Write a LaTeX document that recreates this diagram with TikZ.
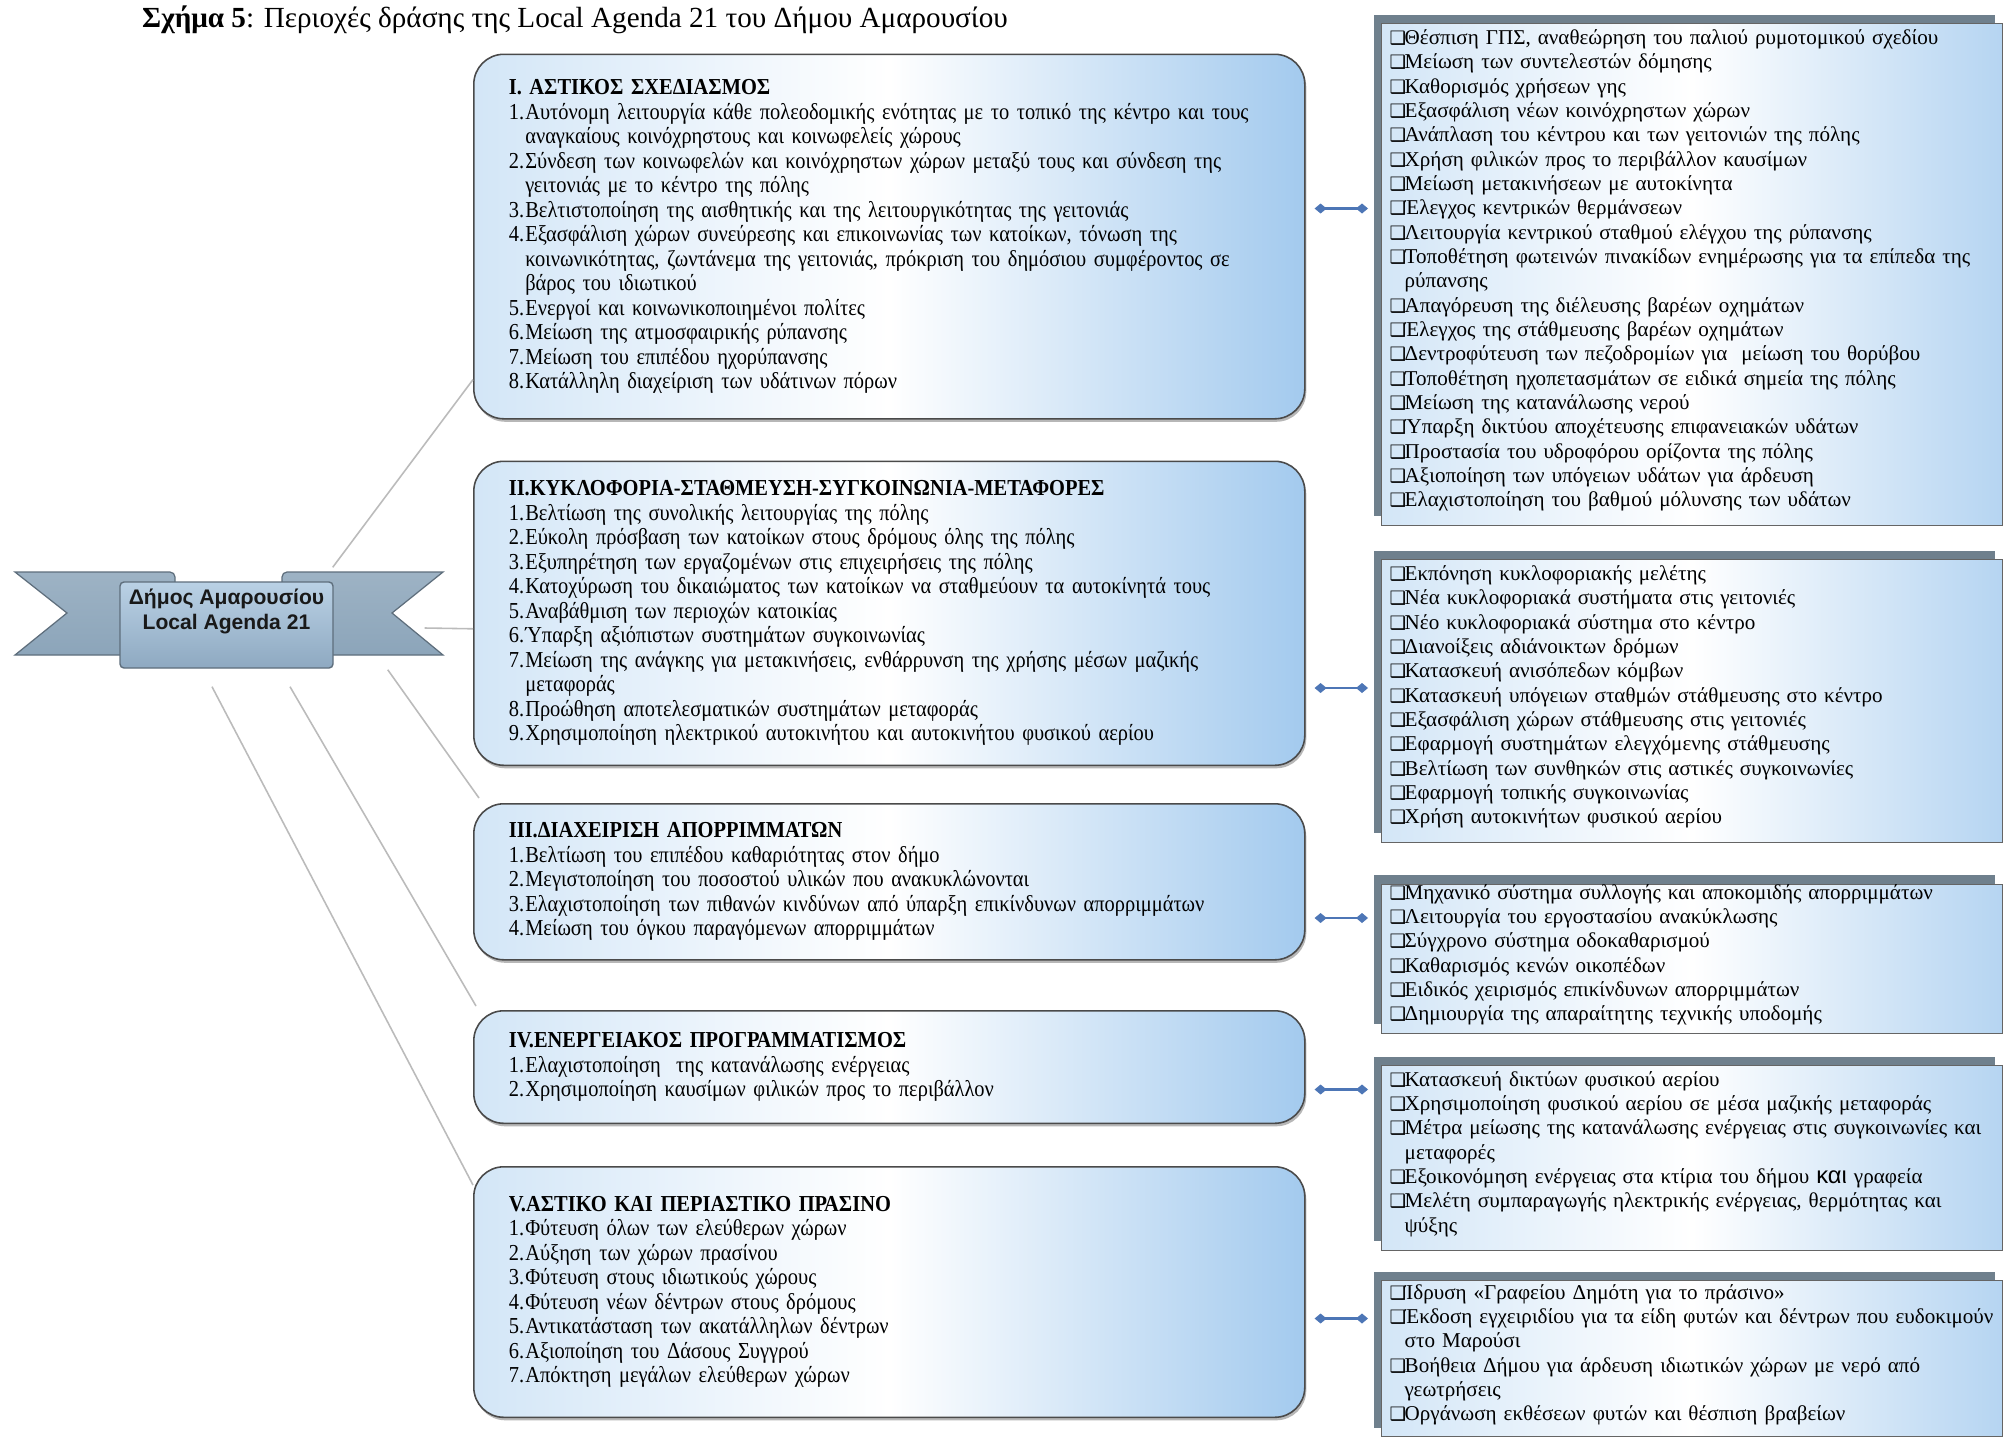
\documentclass[tikz,border=0pt]{standalone}
\usepackage{fontspec}
\setmainfont{Liberation Serif}
\newfontfamily\narrowserif[FakeStretch=0.895]{Liberation Serif}
\newfontfamily\bannersans{Liberation Sans}
\newfontfamily\dingfont{DejaVu Sans}
\usepackage{tikz}
\usetikzlibrary{arrows.meta, positioning, calc, shadows}
\definecolor{Frame}{HTML}{4A4A4A}
\definecolor{PaleBlue}{HTML}{D3E6F7}
\definecolor{SkyBlue}{HTML}{A3CAEE}
\definecolor{LinkBlue}{HTML}{4D76B6}
\definecolor{BranchGray}{HTML}{BBBBBB}
\definecolor{RibbonGray}{HTML}{8CA5BA}
\definecolor{RibbonEdge}{HTML}{5E6E7C}
\definecolor{PanelTop}{HTML}{BAD1E5}
\definecolor{PanelBottom}{HTML}{8EA9C1}
\definecolor{ShadowGray}{HTML}{6F808D}
\newcommand{\goaltitle}[1]{\noindent\textbf{#1}\par}
\newcommand{\goalitem}[2]{\noindent\hangindent=0.33cm\hangafter=1\makebox[0.33cm][l]{#1.}#2\par}
\newcommand{\actitem}[1]{\noindent\hangindent=0.3cm\hangafter=1\makebox[0.3cm][l]{\dingfont\fontsize{10.5}{10}\selectfont ❑}#1\par}
\tikzset{
    goalbox/.style={rectangle, rounded corners=0.6cm, draw=Frame, line width=0.9pt,
        left color=PaleBlue, right color=SkyBlue, middle color=white,
        minimum width=16.62cm, text width=15.22cm, inner xsep=0.7cm, inner ysep=0pt,
        align=left, anchor=north west, font=\narrowserif\fontsize{13}{13.95}\selectfont,
        drop shadow={shadow xshift=0.03cm, shadow yshift=-0.06cm, fill=gray!70, opacity=0.8}},
    actionbox/.style={rectangle, draw=Frame!85, line width=0.8pt,
        left color=PaleBlue, right color=SkyBlue!80, middle color=white,
        minimum width=12.42cm, text width=12.1cm, inner xsep=0.16cm, inner ysep=0pt,
        align=left, anchor=north west, font=\fontsize{12}{13.85}\selectfont,
        execute at end node={\vspace{0.16cm}},
        drop shadow={shadow xshift=-0.15cm, shadow yshift=0.18cm, fill=ShadowGray, opacity=1}},
    link/.style={{Diamond[length=0.24cm,width=0.2cm]}-{Diamond[length=0.24cm,width=0.2cm]},
        draw=LinkBlue, line width=1.4pt, shorten <=0.18cm, shorten >=0.26cm},
    branch/.style={draw=BranchGray, line width=0.9pt},
    ribbontail/.style={top color=RibbonGray!85, bottom color=RibbonGray, draw=RibbonEdge, line width=0.7pt},
    ribbonpanel/.style={rectangle, rounded corners=0.08cm, top color=PanelTop, bottom color=PanelBottom,
        draw=RibbonEdge, line width=0.8pt, minimum width=4.26cm, minimum height=1.72cm},
    bannertext/.style={align=center, text=black!90, font=\bannersans\bfseries\fontsize{12}{14.5}\selectfont}
}

\begin{document}
\begin{tikzpicture}
    \useasboundingbox (0,0) rectangle (40.1,-28.72);
    \fill[white] (0,0) rectangle (40.1,-28.72);

    % Caption
    \node[anchor=base west, font=\fontsize{16.6}{19}\selectfont] (caption) at (2.72,-0.55)
        {\textbf{Σχήμα 5}: Περιοχές δράσης της Local Agenda 21 του Δήμου Αμαρουσίου};

    % Ribbon
    \draw[ribbontail] (0.30,-11.44) -- (3.40,-11.44) arc[start angle=90, end angle=0, radius=0.1]
        -- (3.50,-13.10) -- (0.30,-13.10) -- (1.34,-12.26) -- cycle;
    \draw[ribbontail] (8.86,-11.44) -- (5.74,-11.44) arc[start angle=90, end angle=180, radius=0.1]
        -- (5.64,-13.10) -- (8.86,-13.10) -- (7.84,-12.26) -- cycle;
    \node[ribbonpanel] (dimos) at (4.53,-12.50) {};
    \node[bannertext] (dimoslabel) at ([yshift=0.27cm]dimos.center) {Δήμος Αμαρουσίου\\Local Agenda 21};

    % Goal boxes
    \node[goalbox, minimum height=7.29cm] (urban) at (9.46,-1.07) {
        \goaltitle{I. ΑΣΤΙΚΟΣ ΣΧΕΔΙΑΣΜΟΣ}
        \goalitem{1}{Αυτόνομη λειτουργία κάθε πολεοδομικής ενότητας με το τοπικό της κέντρο και τους\newline αναγκαίους κοινόχρηστους και κοινωφελείς χώρους}
        \goalitem{2}{Σύνδεση των κοινωφελών και κοινόχρηστων χώρων μεταξύ τους και σύνδεση της\newline γειτονιάς με το κέντρο της πόλης}
        \goalitem{3}{Βελτιστοποίηση της αισθητικής και της λειτουργικότητας της γειτονιάς}
        \goalitem{4}{Εξασφάλιση χώρων συνεύρεσης και επικοινωνίας των κατοίκων, τόνωση της\newline κοινωνικότητας, ζωντάνεμα της γειτονιάς, πρόκριση του δημόσιου συμφέροντος σε\newline βάρος του ιδιωτικού}
        \goalitem{5}{Ενεργοί και κοινωνικοποιημένοι πολίτες}
        \goalitem{6}{Μείωση της ατμοσφαιρικής ρύπανσης}
        \goalitem{7}{Μείωση του επιπέδου ηχορύπανσης}
        \goalitem{8}{Κατάλληλη διαχείριση των υδάτινων πόρων}
    };
    \node[goalbox, minimum height=6.08cm] (traffic) at (9.46,-9.21) {
        \goaltitle{II.ΚΥΚΛΟΦΟΡΙΑ-ΣΤΑΘΜΕΥΣΗ-ΣΥΓΚΟΙΝΩΝΙΑ-ΜΕΤΑΦΟΡΕΣ}
        \goalitem{1}{Βελτίωση της συνολικής λειτουργίας της πόλης}
        \goalitem{2}{Εύκολη πρόσβαση των κατοίκων στους δρόμους όλης της πόλης}
        \goalitem{3}{Εξυπηρέτηση των εργαζομένων στις επιχειρήσεις της πόλης}
        \goalitem{4}{Κατοχύρωση του δικαιώματος των κατοίκων να σταθμεύουν τα αυτοκίνητά τους}
        \goalitem{5}{Αναβάθμιση των περιοχών κατοικίας}
        \goalitem{6}{Ύπαρξη αξιόπιστων συστημάτων συγκοινωνίας}
        \goalitem{7}{Μείωση της ανάγκης για μετακινήσεις, ενθάρρυνση της χρήσης μέσων μαζικής\newline μεταφοράς}
        \goalitem{8}{Προώθηση αποτελεσματικών συστημάτων μεταφοράς}
        \goalitem{9}{Χρησιμοποίηση ηλεκτρικού αυτοκινήτου και αυτοκινήτου φυσικού αερίου}
    };
    \node[goalbox, minimum height=3.12cm] (waste) at (9.46,-16.06) {
        \goaltitle{III.ΔΙΑΧΕΙΡΙΣΗ ΑΠΟΡΡΙΜΜΑΤΩΝ}
        \goalitem{1}{Βελτίωση του επιπέδου καθαριότητας στον δήμο}
        \goalitem{2}{Μεγιστοποίηση του ποσοστού υλικών που ανακυκλώνονται}
        \goalitem{3}{Ελαχιστοποίηση των πιθανών κινδύνων από ύπαρξη επικίνδυνων απορριμμάτων}
        \goalitem{4}{Μείωση του όγκου παραγόμενων απορριμμάτων}
    };
    \node[goalbox, minimum height=2.25cm] (energy) at (9.46,-20.20) {
        \goaltitle{IV.ΕΝΕΡΓΕΙΑΚΟΣ ΠΡΟΓΡΑΜΜΑΤΙΣΜΟΣ}
        \goalitem{1}{Ελαχιστοποίηση \ της κατανάλωσης ενέργειας}
        \goalitem{2}{Χρησιμοποίηση καυσίμων φιλικών προς το περιβάλλον}
    };
    \node[goalbox, minimum height=5.01cm] (green) at (9.46,-23.32) {
        \goaltitle{V.ΑΣΤΙΚΟ ΚΑΙ ΠΕΡΙΑΣΤΙΚΟ ΠΡΑΣΙΝΟ}
        \goalitem{1}{Φύτευση όλων των ελεύθερων χώρων}
        \goalitem{2}{Αύξηση των χώρων πρασίνου}
        \goalitem{3}{Φύτευση στους ιδιωτικούς χώρους}
        \goalitem{4}{Φύτευση νέων δέντρων στους δρόμους}
        \goalitem{5}{Αντικατάσταση των ακατάλληλων δέντρων}
        \goalitem{6}{Αξιοποίηση του Δάσους Συγγρού}
        \goalitem{7}{Απόκτηση μεγάλων ελεύθερων χώρων}
    };

    % Action boxes
    \node[actionbox, minimum height=10.03cm] (urbanacts) at (27.62,-0.46) {
        \actitem{Θέσπιση ΓΠΣ, αναθεώρηση του παλιού ρυμοτομικού σχεδίου}
        \actitem{Μείωση των συντελεστών δόμησης}
        \actitem{Καθορισμός χρήσεων γης}
        \actitem{Εξασφάλιση νέων κοινόχρηστων χώρων}
        \actitem{Ανάπλαση του κέντρου και των γειτονιών της πόλης}
        \actitem{Χρήση φιλικών προς το περιβάλλον καυσίμων}
        \actitem{Μείωση μετακινήσεων με αυτοκίνητα}
        \actitem{Έλεγχος κεντρικών θερμάνσεων}
        \actitem{Λειτουργία κεντρικού σταθμού ελέγχου της ρύπανσης}
        \actitem{Τοποθέτηση φωτεινών πινακίδων ενημέρωσης για τα επίπεδα της\newline ρύπανσης}
        \actitem{Απαγόρευση της διέλευσης βαρέων οχημάτων}
        \actitem{Έλεγχος της στάθμευσης βαρέων οχημάτων}
        \actitem{Δεντροφύτευση των πεζοδρομίων για \ μείωση του θορύβου}
        \actitem{Τοποθέτηση ηχοπετασμάτων σε ειδικά σημεία της πόλης}
        \actitem{Μείωση της κατανάλωσης νερού}
        \actitem{Ύπαρξη δικτύου αποχέτευσης επιφανειακών υδάτων}
        \actitem{Προστασία του υδροφόρου ορίζοντα της πόλης}
        \actitem{Αξιοποίηση των υπόγειων υδάτων για άρδευση}
        \actitem{Ελαχιστοποίηση του βαθμού μόλυνσης των υδάτων}
    };
    \node[actionbox, minimum height=5.65cm] (trafficacts) at (27.62,-11.18) {
        \actitem{Εκπόνηση κυκλοφοριακής μελέτης}
        \actitem{Νέα κυκλοφοριακά συστήματα στις γειτονιές}
        \actitem{Νέο κυκλοφοριακά σύστημα στο κέντρο}
        \actitem{Διανοίξεις αδιάνοικτων δρόμων}
        \actitem{Κατασκευή ανισόπεδων κόμβων}
        \actitem{Κατασκευή υπόγειων σταθμών στάθμευσης στο κέντρο}
        \actitem{Εξασφάλιση χώρων στάθμευσης στις γειτονιές}
        \actitem{Εφαρμογή συστημάτων ελεγχόμενης στάθμευσης}
        \actitem{Βελτίωση των συνθηκών στις αστικές συγκοινωνίες}
        \actitem{Εφαρμογή τοπικής συγκοινωνίας}
        \actitem{Χρήση αυτοκινήτων φυσικού αερίου}
    };
    \node[actionbox, minimum height=2.92cm] (wasteacts) at (27.62,-17.67) {
        \actitem{Μηχανικό σύστημα συλλογής και αποκομιδής απορριμμάτων}
        \actitem{Λειτουργία του εργοστασίου ανακύκλωσης}
        \actitem{Σύγχρονο σύστημα οδοκαθαρισμού}
        \actitem{Καθαρισμός κενών οικοπέδων}
        \actitem{Ειδικός χειρισμός επικίνδυνων απορριμμάτων}
        \actitem{Δημιουργία της απαραίτητης τεχνικής υποδομής}
    };
    \node[actionbox, minimum height=3.69cm] (energyacts) at (27.62,-21.30) {
        \actitem{Κατασκευή δικτύων φυσικού αερίου}
        \actitem{Χρησιμοποίηση φυσικού αερίου σε μέσα μαζικής μεταφοράς}
        \actitem{Μέτρα μείωσης της κατανάλωσης ενέργειας στις συγκοινωνίες και\newline μεταφορές}
        \actitem{Εξοικονόμηση ενέργειας στα κτίρια του δήμου {\bannersans\fontsize{13.5}{13.85}\selectfont και} γραφεία}
        \actitem{Μελέτη συμπαραγωγής ηλεκτρικής ενέργειας, θερμότητας και\newline ψύξης}
    };
    \node[actionbox, minimum height=3.12cm] (greenacts) at (27.62,-25.60) {
        \actitem{Ίδρυση «Γραφείου Δημότη για το πράσινο»}
        \actitem{Έκδοση εγχειριδίου για τα είδη φυτών και δέντρων που ευδοκιμούν\newline στο Μαρούσι}
        \actitem{Βοήθεια Δήμου για άρδευση ιδιωτικών χώρων με νερό από\newline γεωτρήσεις}
        \actitem{Οργάνωση εκθέσεων φυτών και θέσπιση βραβείων}
    };

    % Branches from the ribbon
    \draw[branch] ([shift={(-0.02,0.28)}]dimos.north east) -- ([yshift=0.8cm]urban.south west);
    \draw[branch] ([shift={(1.82,-0.06)}]dimos.east) -- ([yshift=-0.31cm]traffic.west);
    \draw[branch] ([shift={(1.08,-0.02)}]dimos.south east) -- ([shift={(0.12,0.1)}]waste.north west);
    \draw[branch] ([shift={(1.27,-0.36)}]dimos.south) -- ([shift={(0.06,0.08)}]energy.north west);
    \draw[branch] ([shift={(-0.29,-0.36)}]dimos.south) -- ([yshift=-0.38cm]green.north west);

    % Links between goals and actions
    \coordinate (urbanlink) at ([yshift=-3.10cm]urban.north east);
    \coordinate (trafficlink) at ([yshift=-4.55cm]traffic.north east);
    \coordinate (wastelink) at ([yshift=-2.30cm]waste.north east);
    \coordinate (energylink) at ([yshift=-1.59cm]energy.north east);
    \coordinate (greenlink) at ([yshift=-3.05cm]green.north east);
    \draw[link] (urbanlink) -- (urbanlink -| urbanacts.west);
    \draw[link] (trafficlink) -- (trafficlink -| trafficacts.west);
    \draw[link] (wastelink) -- (wastelink -| wasteacts.west);
    \draw[link] (energylink) -- (energylink -| energyacts.west);
    \draw[link] (greenlink) -- (greenlink -| greenacts.west);
\end{tikzpicture}
\end{document}
